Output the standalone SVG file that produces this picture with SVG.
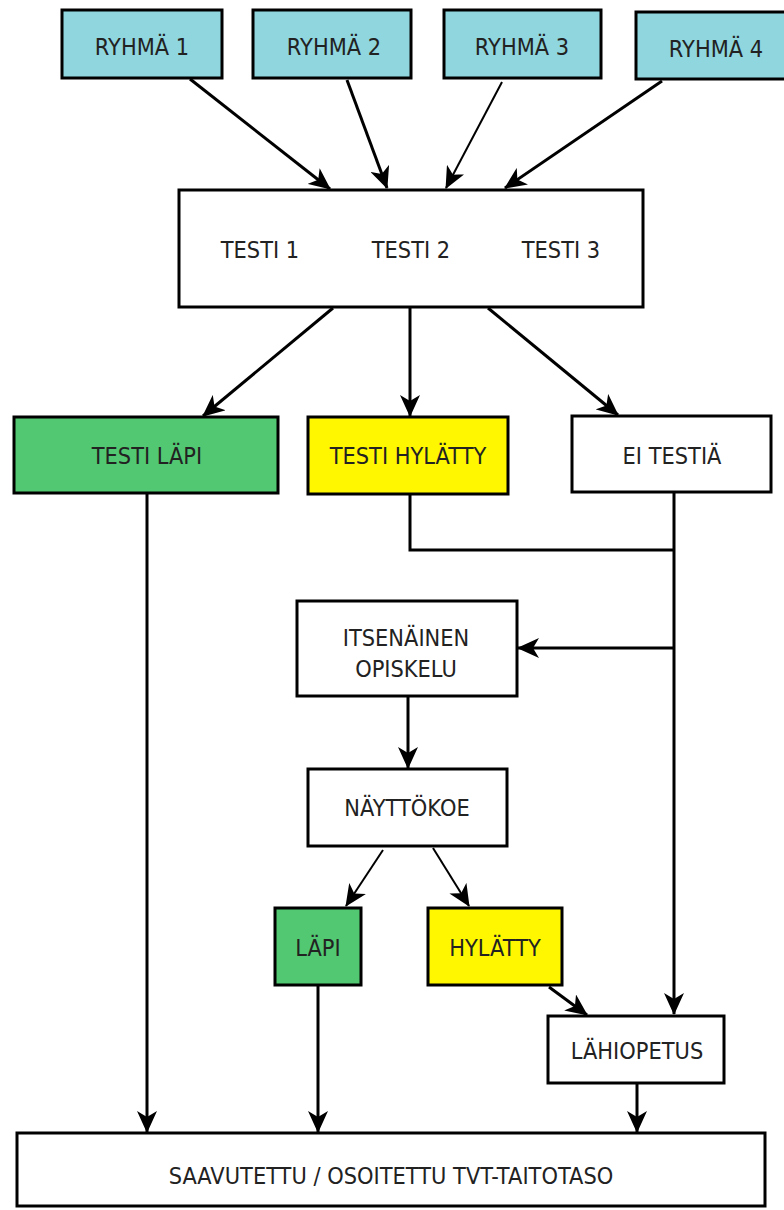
<svg xmlns="http://www.w3.org/2000/svg" width="784" height="1210" viewBox="0 0 784 1210">
<style>
.box{stroke:#000;stroke-width:3}
.w{fill:#fff}
.c{fill:#8fd6df}
.g{fill:#52c872}
.y{fill:#fff700}
text{font-family:"DejaVu Sans","Verdana",sans-serif;font-size:21px;fill:#222;text-anchor:middle;transform-box:fill-box;transform-origin:center;transform:scaleY(1.12)}
.ln{fill:none;stroke:#000;stroke-width:3}
.thin{stroke-width:2}
.arr{marker-end:url(#ah)}
</style>
<defs>
<marker id="ah" markerUnits="userSpaceOnUse" markerWidth="22" markerHeight="20" refX="21" refY="10" orient="auto" viewBox="0 0 22 20">
<path d="M0,0 L22,10 L0,20 L6,10 z" fill="#000"/>
</marker>
</defs>
<rect width="784" height="1210" fill="#fff"/>
<g id="connectors">
<line class="ln arr" x1="190" y1="79" x2="330" y2="189"/>
<line class="ln arr" x1="347" y1="80" x2="387" y2="188"/>
<line class="ln thin arr" x1="502" y1="82" x2="446" y2="188"/>
<line class="ln arr" x1="662" y1="81" x2="505" y2="188"/>
<line class="ln arr" x1="333" y1="308" x2="203" y2="416"/>
<line class="ln arr" x1="410" y1="308" x2="410" y2="416"/>
<line class="ln arr" x1="488" y1="308" x2="618" y2="415"/>
<line class="ln arr" x1="147" y1="493" x2="147" y2="1132"/>
<polyline class="ln" points="410,494 410,550 674,550"/>
<line class="ln arr" x1="674" y1="492" x2="674" y2="1014"/>
<line class="ln arr" x1="674" y1="648" x2="518" y2="648"/>
<line class="ln arr" x1="408" y1="696" x2="408" y2="768"/>
<line class="ln thin arr" x1="383" y1="850" x2="346" y2="906"/>
<line class="ln thin arr" x1="433" y1="848" x2="469" y2="906"/>
<line class="ln arr" x1="549" y1="987" x2="587" y2="1015"/>
<line class="ln arr" x1="318" y1="985" x2="318" y2="1132"/>
<line class="ln arr" x1="637" y1="1083" x2="637" y2="1132"/>
</g>
<g id="ryhma1"><rect class="box c" x="62" y="10" width="160" height="68"/><text x="142" y="54">RYHMÄ 1</text></g>
<g id="ryhma2"><rect class="box c" x="253" y="10" width="158" height="68"/><text x="334" y="54">RYHMÄ 2</text></g>
<g id="ryhma3"><rect class="box c" x="444" y="10" width="157" height="68"/><text x="522" y="54">RYHMÄ 3</text></g>
<g id="ryhma4"><rect class="box c" x="636" y="12" width="160" height="67"/><text x="716" y="56">RYHMÄ 4</text></g>
<g id="testit"><rect class="box w" x="179" y="190" width="464" height="117"/>
<text x="260" y="257">TESTI 1</text><text x="411" y="257">TESTI 2</text><text x="561" y="257">TESTI 3</text></g>
<g id="testilapi"><rect class="box g" x="14" y="417" width="264" height="76"/><text x="147" y="463">TESTI LÄPI</text></g>
<g id="testihylatty"><rect class="box y" x="308" y="417" width="200" height="77"/><text x="408" y="463">TESTI HYLÄTTY</text></g>
<g id="eitestia"><rect class="box w" x="572" y="416" width="199" height="76"/><text x="672" y="463">EI TESTIÄ</text></g>
<g id="itsenainen"><rect class="box w" x="297" y="601" width="220" height="95"/><text x="406" y="645">ITSENÄINEN</text><text x="406" y="676">OPISKELU</text></g>
<g id="nayttokoe"><rect class="box w" x="308" y="769" width="199" height="77"/><text x="407" y="815">NÄYTTÖKOE</text></g>
<g id="lapi"><rect class="box g" x="275" y="908" width="86" height="77"/><text x="318" y="955">LÄPI</text></g>
<g id="hylatty"><rect class="box y" x="428" y="908" width="134" height="77"/><text x="495" y="955">HYLÄTTY</text></g>
<g id="lahiopetus"><rect class="box w" x="548" y="1016" width="176" height="67"/><text x="637" y="1058">LÄHIOPETUS</text></g>
<g id="saavutettu"><rect class="box w" x="17" y="1133" width="748" height="73"/><text x="391" y="1183">SAAVUTETTU / OSOITETTU TVT-TAITOTASO</text></g>
</svg>
